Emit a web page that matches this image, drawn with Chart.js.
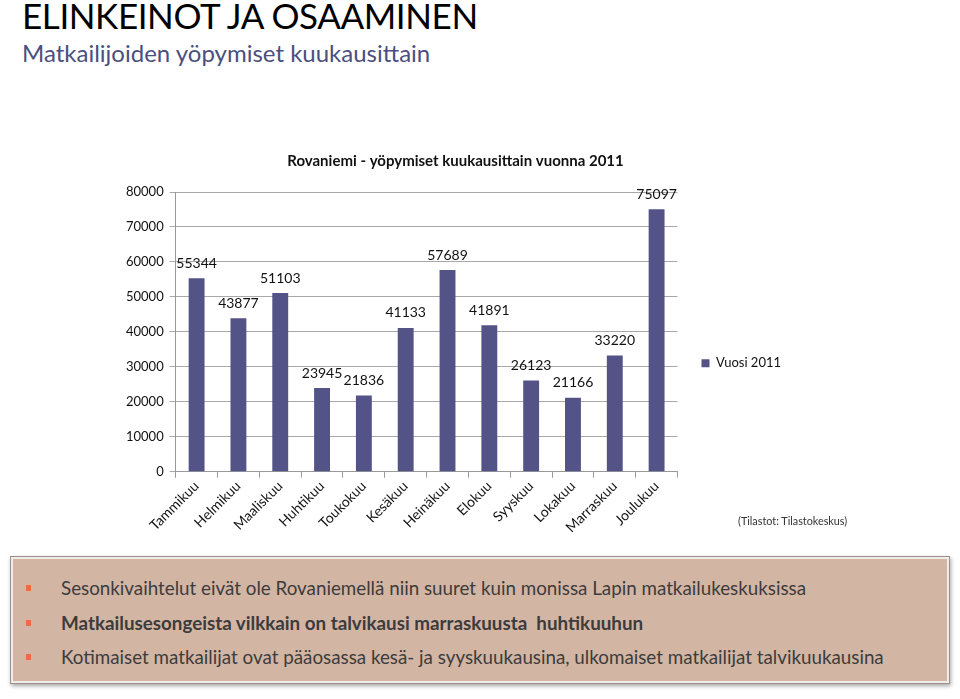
<!DOCTYPE html>
<html>
<head>
<meta charset="utf-8">
<script src="https://cdn.jsdelivr.net/npm/chart.js@4/dist/chart.umd.min.js"></script>
<style>
  html, body { margin: 0; padding: 0; background: #fff; }
  body { width: 960px; height: 699px; position: relative; overflow: hidden; font-family: Lato, "Open Sans", sans-serif; }
  #heading { position: absolute; left: 22px; top: -6px; font-size: 35px; color: #000; letter-spacing: -0.4px; }
  #sub { position: absolute; left: 22px; top: 38px; font-size: 24px; color: #4a4f80; }
  #wrap { position: absolute; left: 120px; top: 146px; width: 671px; height: 390px; }
  #source { position: absolute; left: 738px; top: 514px; font-size: 10.8px; color: #333; }
  #box { position: absolute; left: 10px; top: 556px; width: 938px; height: 126px;
         background: #d3b5a4; border: 1px solid #9a918c; box-shadow: inset 0 0 0 2px #f2ece8, 1px 2px 4px rgba(0,0,0,0.35); }
  #box ul { list-style: none; margin: 0; padding: 20px 0 0 0; }
  #box li { position: relative; padding-left: 50px; font-size: 18.8px; color: #3c3c3c; height: 34.5px; line-height: 22px; white-space: nowrap; }
  #box li::before { content: ""; position: absolute; left: 15px; top: 8px; width: 5px; height: 6px; background: #f06b44; }
  #box li.b { font-weight: bold; }
</style>
</head>
<body>
<div id="heading">ELINKEINOT JA OSAAMINEN</div>
<div id="sub">Matkailijoiden yöpymiset kuukausittain</div>
<div id="wrap"><canvas id="chart"></canvas></div>
<div id="source">(Tilastot: Tilastokeskus)</div>
<div id="box">
  <ul>
    <li>Sesonkivaihtelut eivät ole Rovaniemellä niin suuret kuin monissa Lapin matkailukeskuksissa</li>
    <li class="b">Matkailusesongeista vilkkain on talvikausi marraskuusta&nbsp; huhtikuuhun</li>
    <li>Kotimaiset matkailijat ovat pääosassa kesä- ja syyskuukausina, ulkomaiset matkailijat talvikuukausina</li>
  </ul>
</div>
<script>
const months = ["Tammikuu", "Helmikuu", "Maaliskuu", "Huhtikuu", "Toukokuu", "Kesäkuu",
                "Heinäkuu", "Elokuu", "Syyskuu", "Lokakuu", "Marraskuu", "Joulukuu"]
const nights2011 = [55344, 43877, 51103, 23945, 21836, 41133, 57689, 41891, 26123, 21166, 33220, 75097]
const seriesName = "Vuosi 2011"
const chartTitle = "Rovaniemi - yöpymiset kuukausittain vuonna 2011"
const yMax = 80000
const yStep = 10000

const barColor = "#535388"
const font = "Lato, 'Open Sans', sans-serif"

// values written above each bar
const valueLabels = {
  id: "valueLabels",
  afterDatasetsDraw(chart) {
    const ctx = chart.ctx
    const meta = chart.getDatasetMeta(0)
    ctx.save()
    ctx.font = "14px " + font
    ctx.fillStyle = "#111"
    ctx.textAlign = "center"
    ctx.textBaseline = "bottom"
    meta.data.forEach((bar, i) => {
      ctx.fillText(String(nights2011[i]), bar.x, bar.y - 8)
    })
    ctx.restore()
  }
}

const ctx = document.getElementById("chart").getContext("2d")
new Chart(ctx, {
  type: "bar",
  data: {
    labels: months,
    datasets: [{
      label: seriesName,
      data: nights2011,
      backgroundColor: barColor,
      borderWidth: 0,
      barPercentage: 0.38,
      categoryPercentage: 1
    }]
  },
  options: {
    responsive: true,
    maintainAspectRatio: false,
    animation: false,
    plugins: {
      title: {
        display: true,
        text: chartTitle,
        color: "#111",
        font: { family: font, size: 15, weight: "bold" },
        padding: { top: 6, bottom: 22 }
      },
      legend: {
        position: "right",
        title: { display: true, text: " ", padding: { top: 30, bottom: 0 } },
        labels: {
          boxWidth: 8,
          boxHeight: 8,
          color: "#111",
          font: { family: font, size: 13 },
          padding: 24
        }
      },
      tooltip: { enabled: false }
    },
    scales: {
      x: {
        grid: { drawOnChartArea: false, offset: true, tickLength: 6, color: "#999" },
        border: { color: "#999" },
        ticks: {
          color: "#111",
          font: { family: font, size: 14 },
          maxRotation: 45,
          minRotation: 45,
          padding: 0
        }
      },
      y: {
        min: 0,
        max: yMax,
        ticks: {
          stepSize: yStep,
          color: "#111",
          font: { family: font, size: 13 },
          padding: 6,
          callback: v => String(v)
        },
        grid: { color: "#a8a8a8", tickLength: 6 },
        border: { color: "#999" }
      }
    }
  },
  plugins: [valueLabels]
})
</script>
</body>
</html>
